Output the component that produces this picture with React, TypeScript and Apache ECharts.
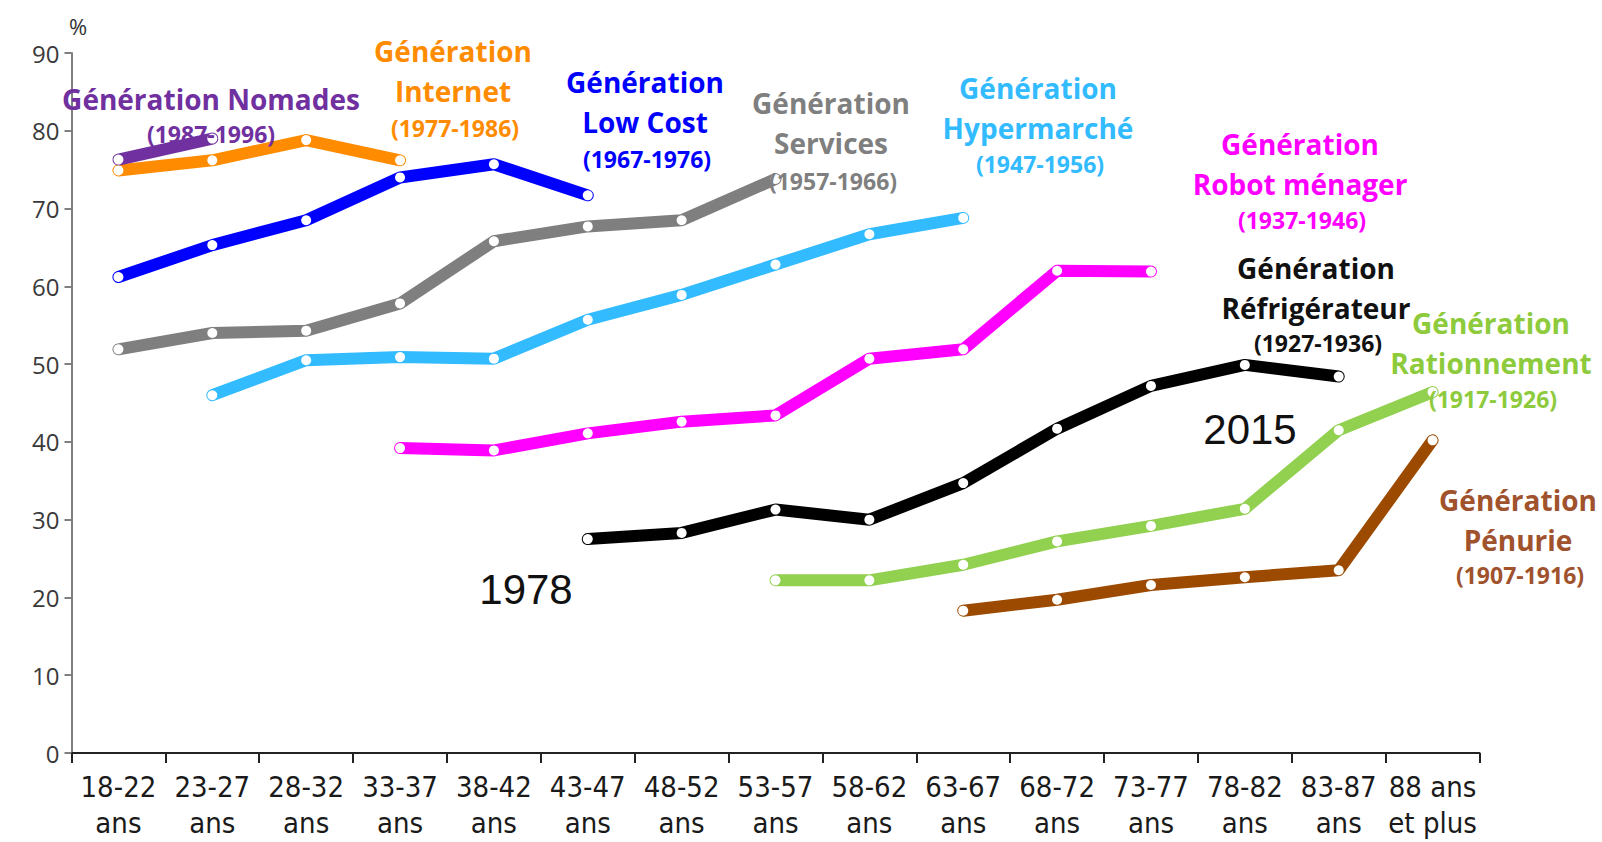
import React, { useEffect, useRef } from "react";
import * as echarts from "echarts";

const categories = [
  "18-22\nans", "23-27\nans", "28-32\nans", "33-37\nans", "38-42\nans",
  "43-47\nans", "48-52\nans", "53-57\nans", "58-62\nans", "63-67\nans",
  "68-72\nans", "73-77\nans", "78-82\nans", "83-87\nans", "88 ans\net plus",
];
const yTicks = [0, 10, 20, 30, 40, 50, 60, 70, 80, 90];

const _ = null;
const internet = [74.9, 76.2, 78.8, 76.2, _, _, _, _, _, _, _, _, _, _, _];
const lowCost = [61.2, 65.3, 68.5, 74.0, 75.7, 71.7, _, _, _, _, _, _, _, _, _];
const services = [51.9, 54.0, 54.3, 57.8, 65.8, 67.7, 68.5, 73.8, _, _, _, _, _, _, _];
const hypermarche = [_, 46.0, 50.5, 50.9, 50.7, 55.7, 58.9, 62.8, 66.7, 68.8, _, _, _, _, _];
const robotMenager = [_, _, _, 39.2, 38.9, 41.1, 42.6, 43.4, 50.7, 51.9, 62.0, 61.9, _, _, _];
const refrigerateur = [_, _, _, _, _, 27.5, 28.3, 31.3, 30.0, 34.7, 41.7, 47.2, 49.9, 48.4, _];
const rationnement = [_, _, _, _, _, _, _, 22.2, 22.2, 24.2, 27.2, 29.2, 31.4, 41.5, 46.4];
const penurie = [_, _, _, _, _, _, _, _, _, 18.3, 19.7, 21.6, 22.6, 23.5, 40.2];
const nomades = [76.3, 79.0, _, _, _, _, _, _, _, _, _, _, _, _, _];

const seriesDefs = [
  { name: "Génération Internet", data: internet, color: "#FF8C00" },
  { name: "Génération Low Cost", data: lowCost, color: "#0000FF" },
  { name: "Génération Services", data: services, color: "#7F7F7F" },
  { name: "Génération Hypermarché", data: hypermarche, color: "#33BBFF" },
  { name: "Génération Robot ménager", data: robotMenager, color: "#FF00FF" },
  { name: "Génération Réfrigérateur", data: refrigerateur, color: "#000000" },
  { name: "Génération Rationnement", data: rationnement, color: "#92D050" },
  { name: "Génération Pénurie", data: penurie, color: "#9C4A00" },
  { name: "Génération Nomades", data: nomades, color: "#7030A0" },
];

const labelDefs = [
  { lines: ["Génération Nomades"], years: "(1987-1996)", color: "#7030A0", x: 211, y: 99, yy: 134 },
  { lines: ["Génération", "Internet"], years: "(1977-1986)", color: "#FF8C00", x: 453, y: 51, yy: 128 },
  { lines: ["Génération", "Low Cost"], years: "(1967-1976)", color: "#0000FF", x: 645, y: 82, yy: 159 },
  { lines: ["Génération", "Services"], years: "(1957-1966)", color: "#7F7F7F", x: 831, y: 103, yy: 181 },
  { lines: ["Génération", "Hypermarché"], years: "(1947-1956)", color: "#33BBFF", x: 1038, y: 88, yy: 164 },
  { lines: ["Génération", "Robot ménager"], years: "(1937-1946)", color: "#FF00FF", x: 1300, y: 144, yy: 220 },
  { lines: ["Génération", "Réfrigérateur"], years: "(1927-1936)", color: "#111111", x: 1316, y: 268, yy: 343 },
  { lines: ["Génération", "Rationnement"], years: "(1917-1926)", color: "#8DCB3C", x: 1491, y: 323, yy: 399 },
  { lines: ["Génération", "Pénurie"], years: "(1907-1916)", color: "#A0522D", x: 1518, y: 500, yy: 575 },
];

const BOLD = "bold 28px 'Open Sans', 'Noto Sans', sans-serif";
const BOLD_SM = "bold 23px 'Open Sans', 'Noto Sans', sans-serif";

export default function App() {
  const ref = useRef<HTMLDivElement>(null);
  useEffect(() => {
    document.body.style.margin = "0";
    const chart = echarts.init(ref.current!, null, { renderer: "svg" });

    const graphics: any[] = [];
    labelDefs.forEach((d) => {
      d.lines.forEach((t, i) => {
        graphics.push({
          type: "text", z: 100, x: d.x, y: d.y + i * 40,
          style: { text: t, fill: d.color, font: BOLD, textAlign: "center", textVerticalAlign: "middle" },
        });
      });
      graphics.push({
        type: "text", z: 100, x: d.x + (d.lines.length > 1 ? 2 : 0), y: d.yy,
        style: { text: d.years, fill: d.color, font: BOLD_SM, textAlign: "center", textVerticalAlign: "middle" },
      });
    });
    graphics.push({
      type: "text", z: 100, x: 526, y: 589,
      style: { text: "1978", fill: "#111", font: "42px 'Liberation Sans', Arial, sans-serif", textAlign: "center", textVerticalAlign: "middle" },
    });
    graphics.push({
      type: "text", z: 100, x: 1250, y: 429,
      style: { text: "2015", fill: "#111", font: "42px 'Liberation Sans', Arial, sans-serif", textAlign: "center", textVerticalAlign: "middle" },
    });
    graphics.push({
      type: "text", z: 100, x: 78, y: 26,
      style: { text: "%", fill: "#333", font: "22px 'Open Sans', sans-serif", textAlign: "center", textVerticalAlign: "middle" },
    });

    chart.setOption({
      animation: false,
      backgroundColor: "#ffffff",
      grid: { left: 71.5, right: 122.5, top: 53, bottom: 89, outerBoundsMode: "none", containLabel: false },
      xAxis: {
        type: "category",
        data: categories,
        boundaryGap: true,
        axisLine: { lineStyle: { color: "#222", width: 2 } },
        axisTick: { show: true, length: 10, lineStyle: { color: "#222", width: 2 } },
        axisLabel: {
          color: "#1a1a1a",
          fontSize: 29,
          lineHeight: 36,
          margin: 16,
          interval: 0,
          fontFamily: "'Liberation Sans Narrow', 'DejaVu Sans Condensed', sans-serif",
        },
      },
      yAxis: {
        type: "value",
        min: 0,
        max: 90,
        interval: 10,
        axisLine: { show: true, lineStyle: { color: "#7F7F7F", width: 2 } },
        axisTick: { show: true, length: 7, lineStyle: { color: "#7F7F7F", width: 2 } },
        splitLine: { show: false },
        axisLabel: {
          color: "#3a3a3a",
          fontSize: 24,
          margin: 12,
          fontFamily: "'Open Sans', 'Noto Sans', sans-serif",
          formatter: (v: number) => (yTicks.includes(v) ? String(v) : ""),
        },
      },
      series: seriesDefs.map((s) => ({
        name: s.name,
        type: "line",
        data: s.data,
        symbol: "circle",
        symbolSize: 10,
        showSymbol: true,
        itemStyle: { color: "#ffffff", borderWidth: 0 },
        lineStyle: { color: s.color, width: 12, cap: "round", join: "round" },
        emphasis: { disabled: true },
      })),
      graphic: graphics,
    });
    return () => chart.dispose();
  }, []);
  return <div ref={ref} style={{ width: 1602, height: 842 }} />;
}
